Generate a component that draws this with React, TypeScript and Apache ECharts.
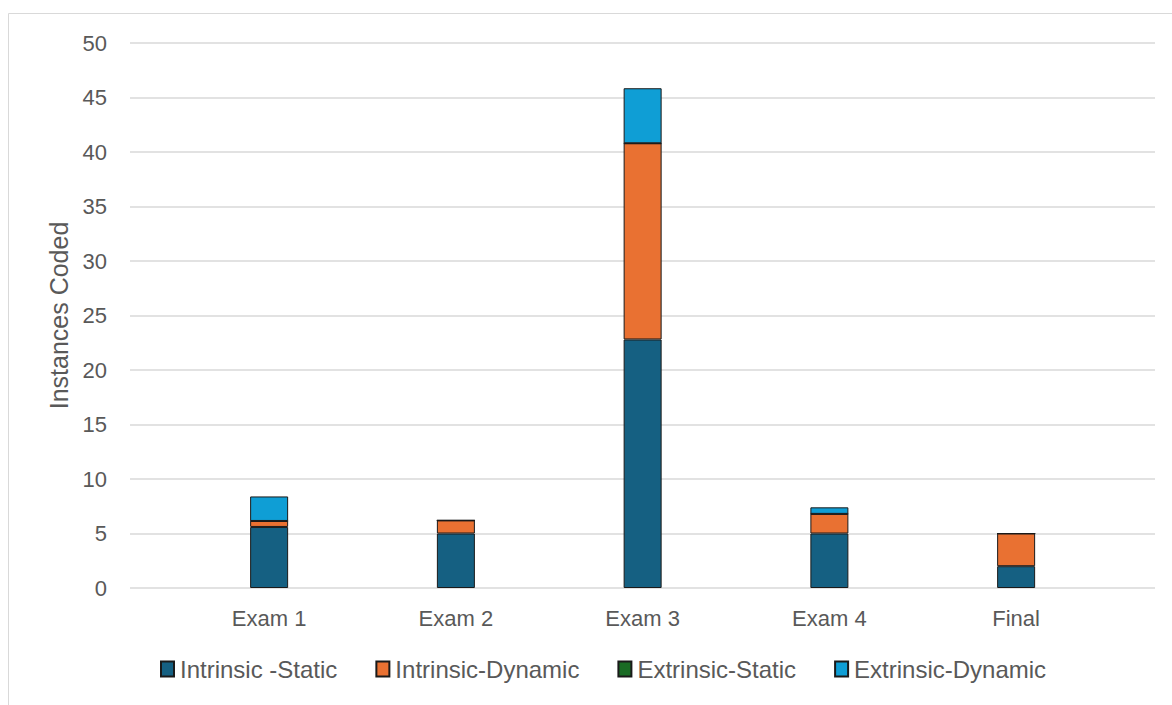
import React, { useEffect, useRef } from "react";
import * as echarts from "echarts";

// Exams along the x axis
const categories = ["Exam 1", "Exam 2", "Exam 3", "Exam 4", "Final"];

// Coded instances per exam, one array per code
const intrinsicStatic = [5.6, 5.0, 22.8, 5.0, 2.0];
const intrinsicDynamic = [0.55, 1.2, 18.0, 1.8, 3.0];
const extrinsicStatic = [0, 0, 0, 0, 0];
const extrinsicDynamic = [2.25, 0, 5.05, 0.6, 0];

const seriesNames = [
  "Intrinsic -Static",
  "Intrinsic-Dynamic",
  "Extrinsic-Static",
  "Extrinsic-Dynamic",
];
const seriesColors = ["#156082", "#e97132", "#196b24", "#0f9ed5"];
const seriesData = [intrinsicStatic, intrinsicDynamic, extrinsicStatic, extrinsicDynamic];

const Y_MIN = 0;
const Y_MAX = 50;
const Y_STEP = 5;

const TEXT = "#595959";
const FONT = "Liberation Sans, Arial, sans-serif";

export default function App() {
  const ref = useRef<HTMLDivElement>(null);

  useEffect(() => {
    if (!ref.current) return;
    const chart = echarts.init(ref.current, undefined, { renderer: "svg" });

    const plotTop = 43;
    const plotBottom = 705 - 588;

    chart.setOption({
      animation: false,
      backgroundColor: "#ffffff",
      textStyle: { fontFamily: FONT },
      graphic: [
        {
          type: "rect",
          shape: { x: 8.5, y: 13.5, width: 1180, height: 720 },
          style: { fill: "none", stroke: "#d9d9d9", lineWidth: 1 },
          silent: true,
        },
      ],
      legend: {
        bottom: 19,
        left: 155,
        itemWidth: 13,
        itemHeight: 15,
        itemGap: 38,
        icon: "rect",
        textStyle: { color: TEXT, fontSize: 24, fontFamily: FONT, padding: [0, 0, 0, 1] },
        data: seriesNames,
      },
      grid: [
        // full-width grid carrying the value axis and gridlines
        { left: 130, right: 17, top: plotTop, bottom: plotBottom },
        // inner grid holding the category bands and bars
        { left: 175.75, width: 933.75, top: plotTop, bottom: plotBottom },
      ],
      xAxis: [
        { gridIndex: 0, type: "value", show: false, min: 0, max: 1 },
        {
          gridIndex: 1,
          type: "category",
          data: categories,
          axisLine: { show: false },
          axisTick: { show: false },
          axisLabel: { color: TEXT, fontSize: 22, margin: 19, fontFamily: FONT },
        },
      ],
      yAxis: [
        {
          gridIndex: 0,
          type: "value",
          min: Y_MIN,
          max: Y_MAX,
          interval: Y_STEP,
          name: "Instances Coded",
          nameLocation: "middle",
          nameGap: 57,
          nameTextStyle: { color: TEXT, fontSize: 25, fontFamily: FONT },
          axisLine: { show: false },
          axisTick: { show: false },
          axisLabel: { color: TEXT, fontSize: 22, margin: 23, fontFamily: FONT },
          splitLine: { lineStyle: { color: "#d9d9d9", width: 1.5 } },
        },
        {
          gridIndex: 1,
          type: "value",
          min: Y_MIN,
          max: Y_MAX,
          interval: Y_STEP,
          show: false,
          splitLine: { show: false },
        },
      ],
      series: seriesNames.map((name, i) => ({
        name,
        type: "bar",
        stack: "codes",
        xAxisIndex: 1,
        yAxisIndex: 1,
        barWidth: 38,
        data: seriesData[i],
        itemStyle: {
          color: seriesColors[i],
          borderColor: "#1a1a1a",
          borderWidth: 1,
        },
      })),
    });

    return () => chart.dispose();
  }, []);

  return (
    <div
      ref={ref}
      style={{ position: "absolute", left: 0, top: 0, width: 1172, height: 705 }}
    />
  );
}
